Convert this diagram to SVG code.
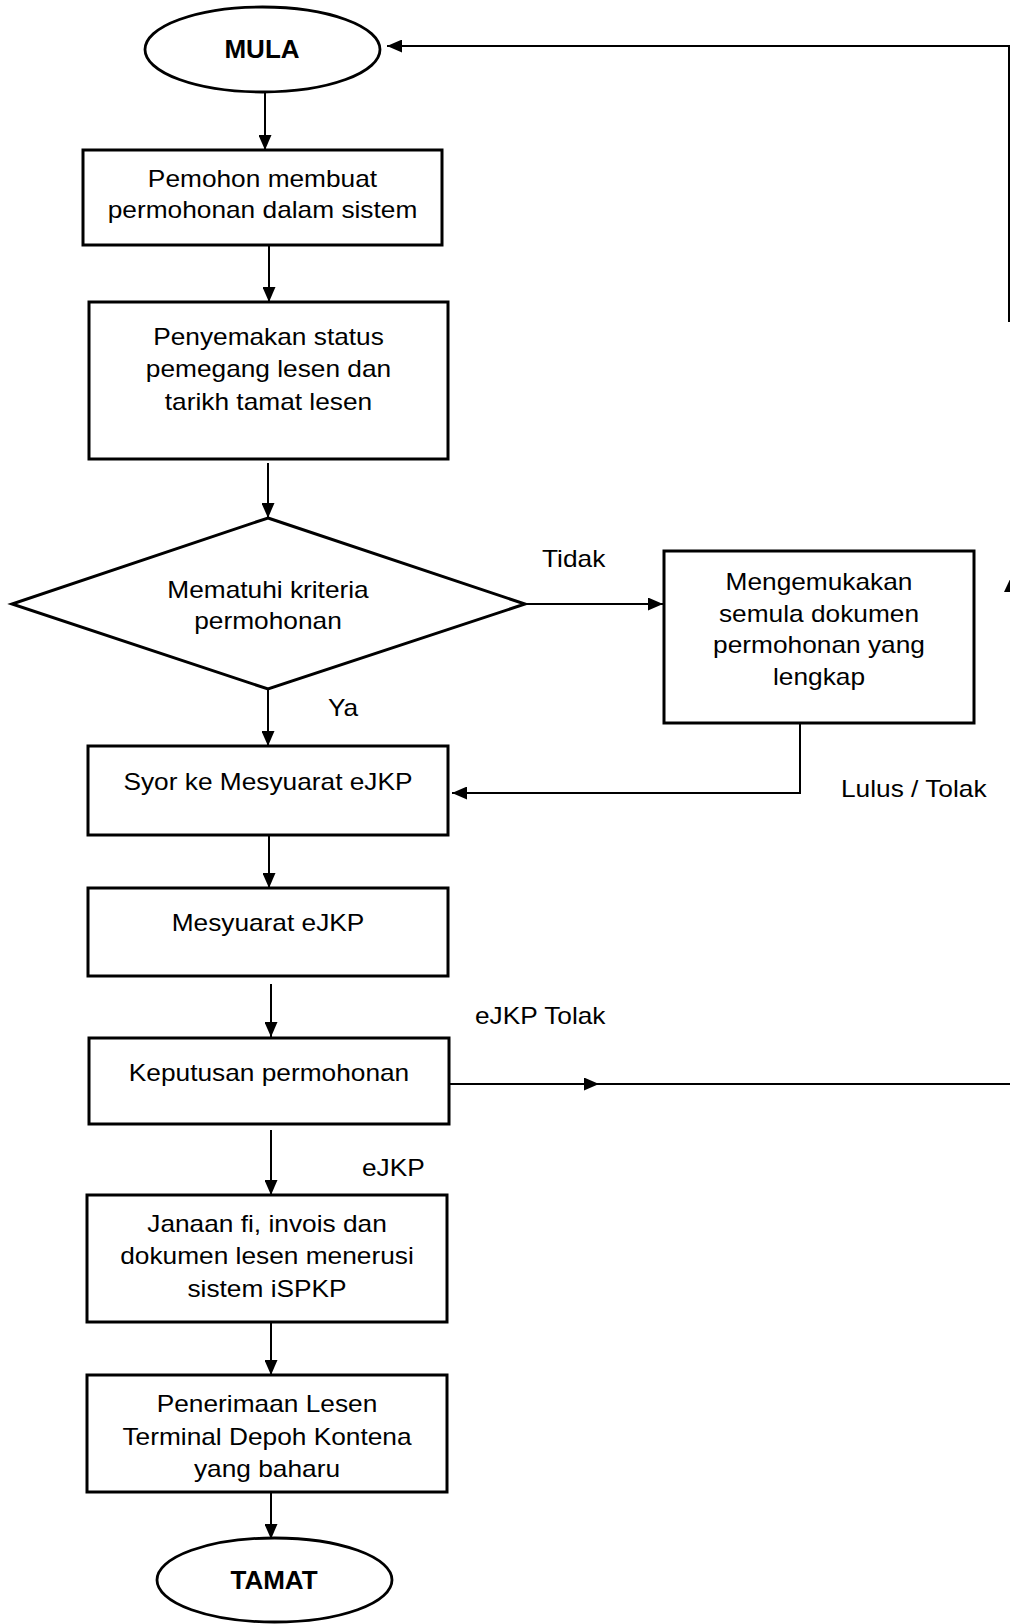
<svg xmlns="http://www.w3.org/2000/svg" width="1010" height="1624" viewBox="0 0 1010 1624">
<style>
.bg{fill:#fff}
.box{fill:#fff;stroke:#000;stroke-width:3}
.term{fill:#fff;stroke:#000;stroke-width:2.8}
.con{fill:none;stroke:#000;stroke-width:2}
.t{font-family:"Liberation Sans",Arial,sans-serif;font-size:24px;fill:#000;text-anchor:middle}
.l{font-family:"Liberation Sans",Arial,sans-serif;font-size:24px;fill:#000;text-anchor:start}
.b{font-family:"Liberation Sans",Arial,sans-serif;font-size:26px;font-weight:bold;fill:#000;text-anchor:middle}
</style>
<defs>
<marker id="ah" viewBox="0 0 15 13" refX="15" refY="6.5" markerWidth="15" markerHeight="13" markerUnits="userSpaceOnUse" orient="auto">
<path d="M0,0 L15,6.5 L0,13 z" fill="#000"/>
</marker>
</defs>
<rect class="bg" x="0" y="0" width="1010" height="1624"/>

<g id="connectors">
<line class="con" x1="265" y1="92" x2="265" y2="150" marker-end="url(#ah)"/>
<line class="con" x1="269" y1="245" x2="269" y2="302" marker-end="url(#ah)"/>
<line class="con" x1="268" y1="463" x2="268" y2="518" marker-end="url(#ah)"/>
<line class="con" x1="525" y1="604" x2="663" y2="604" marker-end="url(#ah)"/>
<path class="con" d="M800,723 V793 H452" marker-end="url(#ah)"/>
<line class="con" x1="268" y1="689" x2="268" y2="746" marker-end="url(#ah)"/>
<line class="con" x1="269" y1="835" x2="269" y2="888" marker-end="url(#ah)"/>
<line class="con" x1="271" y1="984" x2="271" y2="1037" marker-end="url(#ah)"/>
<line class="con" x1="271" y1="1130" x2="271" y2="1195" marker-end="url(#ah)"/>
<line class="con" x1="271" y1="1322" x2="271" y2="1375" marker-end="url(#ah)"/>
<line class="con" x1="271" y1="1492" x2="271" y2="1539" marker-end="url(#ah)"/>
<line class="con" x1="449" y1="1084" x2="599" y2="1084" marker-end="url(#ah)"/>
<line class="con" x1="597" y1="1084" x2="1010" y2="1084"/>
<path class="con" d="M1009,322 V46 H387" marker-end="url(#ah)"/>
<polygon points="1011,577 1004,592 1018,592" fill="#000"/>
<g transform="translate(542 0) scale(1.095 1)"><text class="l" x="0" y="567">Tidak</text></g>
<g transform="translate(328 0) scale(1.095 1)"><text class="l" x="0" y="716">Ya</text></g>
<g transform="translate(841 0) scale(1.095 1)"><text class="l" x="0" y="797">Lulus / Tolak</text></g>
<g transform="translate(475 0) scale(1.095 1)"><text class="l" x="0" y="1024">eJKP Tolak</text></g>
<g transform="translate(362 0) scale(1.095 1)"><text class="l" x="0" y="1176">eJKP</text></g>
</g>

<g id="mula">
<ellipse class="term" cx="262.5" cy="49.5" rx="117.5" ry="42.5"/>
<text class="b" x="262" y="58">MULA</text>
</g>

<g id="pemohon">
<rect class="box" x="83" y="150" width="359" height="95"/>
<g transform="translate(262.5 0) scale(1.095 1)">
<text class="t" x="0" y="187">Pemohon membuat</text>
<text class="t" x="0" y="218">permohonan dalam sistem</text>
</g>
</g>

<g id="penyemakan">
<rect class="box" x="89" y="302" width="359" height="157"/>
<g transform="translate(268.5 0) scale(1.095 1)">
<text class="t" x="0" y="345">Penyemakan status</text>
<text class="t" x="0" y="377">pemegang lesen dan</text>
<text class="t" x="0" y="410">tarikh tamat lesen</text>
</g>
</g>

<g id="mematuhi">
<polygon class="box" points="268,518 525,604 268,689 12,604"/>
<g transform="translate(268 0) scale(1.095 1)">
<text class="t" x="0" y="598">Mematuhi kriteria</text>
<text class="t" x="0" y="629">permohonan</text>
</g>
</g>

<g id="mengemukakan">
<rect class="box" x="664" y="551" width="310" height="172"/>
<g transform="translate(819 0) scale(1.095 1)">
<text class="t" x="0" y="590">Mengemukakan</text>
<text class="t" x="0" y="622">semula dokumen</text>
<text class="t" x="0" y="653">permohonan yang</text>
<text class="t" x="0" y="685">lengkap</text>
</g>
</g>

<g id="syor">
<rect class="box" x="88" y="746" width="360" height="89"/>
<g transform="translate(268 0) scale(1.095 1)">
<text class="t" x="0" y="790">Syor ke Mesyuarat eJKP</text>
</g>
</g>

<g id="mesyuarat">
<rect class="box" x="88" y="888" width="360" height="88"/>
<g transform="translate(268 0) scale(1.095 1)">
<text class="t" x="0" y="931">Mesyuarat eJKP</text>
</g>
</g>

<g id="keputusan">
<rect class="box" x="89" y="1038" width="360" height="86"/>
<g transform="translate(269 0) scale(1.095 1)">
<text class="t" x="0" y="1081">Keputusan permohonan</text>
</g>
</g>

<g id="janaan">
<rect class="box" x="87" y="1195" width="360" height="127"/>
<g transform="translate(267 0) scale(1.095 1)">
<text class="t" x="0" y="1232">Janaan fi, invois dan</text>
<text class="t" x="0" y="1264">dokumen lesen menerusi</text>
<text class="t" x="0" y="1297">sistem iSPKP</text>
</g>
</g>

<g id="penerimaan">
<rect class="box" x="87" y="1375" width="360" height="117"/>
<g transform="translate(267 0) scale(1.095 1)">
<text class="t" x="0" y="1412">Penerimaan Lesen</text>
<text class="t" x="0" y="1445">Terminal Depoh Kontena</text>
<text class="t" x="0" y="1477">yang baharu</text>
</g>
</g>

<g id="tamat">
<ellipse class="term" cx="274.5" cy="1580" rx="117.5" ry="42"/>
<text class="b" x="274" y="1589">TAMAT</text>
</g>
</svg>
